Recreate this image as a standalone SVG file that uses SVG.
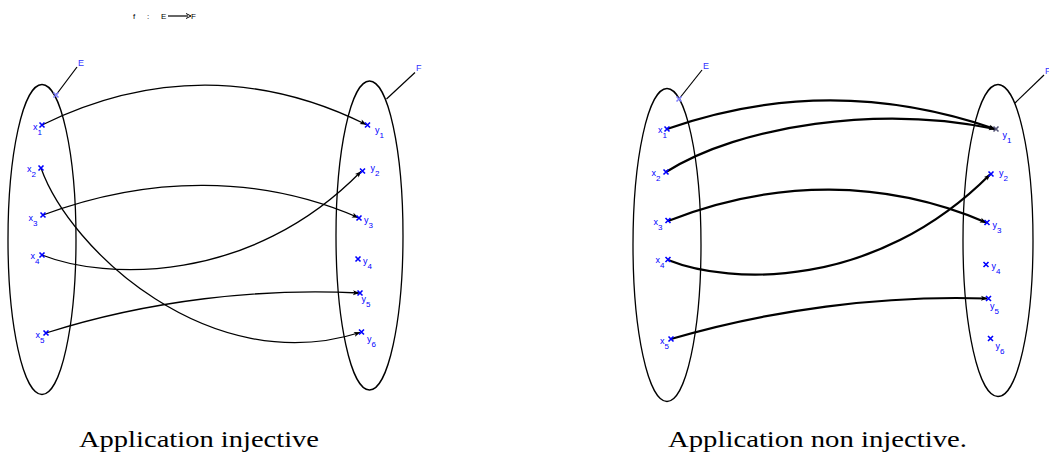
<svg xmlns="http://www.w3.org/2000/svg" xmlns:xlink="http://www.w3.org/1999/xlink" width="1049" height="461" viewBox="0 0 1049 461">
<style>
.set{fill:none;stroke:#000;stroke-width:1.3}
.lead{stroke:#000;stroke-width:1.2;fill:none}
.lbl{font-family:"Liberation Sans",Arial,sans-serif;font-size:9px;fill:#0000ff}
.sub{font-size:8px}
.setname{font-family:"Liberation Sans",Arial,sans-serif;font-size:9px;fill:#3333ff}
.pt{stroke:#0000ff;stroke-width:1.6;fill:none}
.pt2{stroke:#8080ff;stroke-width:1.6;fill:none}
.c1{fill:none;stroke:#000;stroke-width:1.3}
.c2{fill:none;stroke:#000;stroke-width:2.2}
.cap{font-family:"Liberation Serif","Times New Roman",serif;font-size:23px;fill:#000}
.top{font-family:"Liberation Sans",Arial,sans-serif;font-size:8px;fill:#000}
</style>
<defs>
<path id="cr" d="M-2.5,-2.5 L2.5,2.5 M-2.5,2.5 L2.5,-2.5"/>
<marker id="ah" markerUnits="userSpaceOnUse" markerWidth="8" markerHeight="6" refX="6" refY="3" orient="auto" overflow="visible">
<path d="M0,0.5 L6.5,3 L0,5.5 L1.5,3 z" fill="#000"/>
</marker>
</defs>
<rect width="1049" height="461" fill="#fff"/>

<g id="title">
<text class="top" x="133" y="19">f</text>
<text class="top" x="147" y="19">:</text>
<text class="top" x="161" y="19">E</text>
<line x1="168" y1="16" x2="188" y2="16" stroke="#000" stroke-width="1.2"/>
<path d="M186,13.5 L191,16 L186,18.5" fill="none" stroke="#000" stroke-width="1"/>
<text class="top" x="191" y="19">F</text>
</g>

<g id="setE1">
<ellipse class="set" cx="42" cy="239.5" rx="34" ry="155"/>
<line class="lead" x1="56" y1="95" x2="77" y2="67"/>
<use href="#cr" xlink:href="#cr" x="56" y="95" class="pt2"/>
<text class="setname" x="78" y="66">E</text>
</g>
<g id="setF1">
<ellipse class="set" cx="369.5" cy="235.5" rx="33.5" ry="154.5"/>
<line class="lead" x1="386.5" y1="99" x2="415" y2="72.5"/>
<text class="setname" x="416" y="71">F</text>
</g>

<g id="setE2">
<ellipse class="set" cx="667" cy="245" rx="34" ry="156.5"/>
<line class="lead" x1="679" y1="99" x2="702" y2="70"/>
<use href="#cr" xlink:href="#cr" x="679" y="99" class="pt2"/>
<text class="setname" x="703" y="69">E</text>
</g>
<g id="setF2">
<ellipse class="set" cx="998" cy="240.5" rx="35" ry="156"/>
<line class="lead" x1="1015" y1="103" x2="1044" y2="75"/>
<text class="setname" x="1045" y="74">F</text>
</g>

<g id="connectors">
<path class="c1" marker-end="url(#ah)" d="M42,125 C150,72 260,72 366,124.5"/>
<path class="c1" marker-end="url(#ah)" d="M41,168 C70,250 210,380 360,332.5"/>
<path class="c1" marker-end="url(#ah)" d="M43,215 C150,175 260,175 358,217.5"/>
<path class="c1" marker-end="url(#ah)" d="M42,255 C105,280 250,285 361,171.5"/>
<path class="c1" marker-end="url(#ah)" d="M46,333 C150,300 260,288 359,293"/>

<path class="c2" marker-end="url(#ah)" d="M667,129 C775,91 885,91 995,129"/>
<path class="c2" marker-end="url(#ah)" d="M666,172 C740,125 880,105 995,129"/>
<path class="c2" marker-end="url(#ah)" d="M668,221 C775,179 885,179 986,222.5"/>
<path class="c2" marker-end="url(#ah)" d="M668,260 C730,285 875,290 990,174.5"/>
<path class="c2" marker-end="url(#ah)" d="M671,339 C770,310 880,295 987,298.5"/>
</g>

<g id="x1a"><use href="#cr" xlink:href="#cr" x="42" y="125" class="pt"/><text class="lbl" x="33" y="130">x<tspan class="sub" dy="5">1</tspan></text></g>
<g id="x2a"><use href="#cr" xlink:href="#cr" x="41" y="168" class="pt"/><text class="lbl" x="27" y="172">x<tspan class="sub" dy="5">2</tspan></text></g>
<g id="x3a"><use href="#cr" xlink:href="#cr" x="43" y="215" class="pt"/><text class="lbl" x="28.5" y="221">x<tspan class="sub" dy="5">3</tspan></text></g>
<g id="x4a"><use href="#cr" xlink:href="#cr" x="42" y="255" class="pt"/><text class="lbl" x="30.5" y="259">x<tspan class="sub" dy="5">4</tspan></text></g>
<g id="x5a"><use href="#cr" xlink:href="#cr" x="46" y="333" class="pt"/><text class="lbl" x="35.5" y="338">x<tspan class="sub" dy="5">5</tspan></text></g>

<g id="y1a"><use href="#cr" xlink:href="#cr" x="367.5" y="125" class="pt"/><text class="lbl" x="375" y="133">y<tspan class="sub" dy="5">1</tspan></text></g>
<g id="y2a"><use href="#cr" xlink:href="#cr" x="362.5" y="171" class="pt"/><text class="lbl" x="370.5" y="171">y<tspan class="sub" dy="5">2</tspan></text></g>
<g id="y3a"><use href="#cr" xlink:href="#cr" x="359" y="218" class="pt"/><text class="lbl" x="364" y="222.5">y<tspan class="sub" dy="5">3</tspan></text></g>
<g id="y4a"><use href="#cr" xlink:href="#cr" x="358" y="259" class="pt"/><text class="lbl" x="363" y="264">y<tspan class="sub" dy="5">4</tspan></text></g>
<g id="y5a"><use href="#cr" xlink:href="#cr" x="360" y="293" class="pt"/><text class="lbl" x="361.5" y="302">y<tspan class="sub" dy="5">5</tspan></text></g>
<g id="y6a"><use href="#cr" xlink:href="#cr" x="361.5" y="332" class="pt"/><text class="lbl" x="367" y="342">y<tspan class="sub" dy="5">6</tspan></text></g>

<g id="x1b"><use href="#cr" xlink:href="#cr" x="667" y="129" class="pt"/><text class="lbl" x="658" y="133">x<tspan class="sub" dy="5">1</tspan></text></g>
<g id="x2b"><use href="#cr" xlink:href="#cr" x="666" y="172" class="pt"/><text class="lbl" x="651.5" y="175.5">x<tspan class="sub" dy="5">2</tspan></text></g>
<g id="x3b"><use href="#cr" xlink:href="#cr" x="668" y="220.5" class="pt"/><text class="lbl" x="653.5" y="225">x<tspan class="sub" dy="5">3</tspan></text></g>
<g id="x4b"><use href="#cr" xlink:href="#cr" x="668" y="259.5" class="pt"/><text class="lbl" x="655.5" y="262.5">x<tspan class="sub" dy="5">4</tspan></text></g>
<g id="x5b"><use href="#cr" xlink:href="#cr" x="671" y="339" class="pt"/><text class="lbl" x="660" y="344">x<tspan class="sub" dy="5">5</tspan></text></g>

<g id="y1b"><use href="#cr" xlink:href="#cr" x="996" y="129" class="pt" style="stroke:#555577"/><text class="lbl" x="1002.5" y="138">y<tspan class="sub" dy="5">1</tspan></text></g>
<g id="y2b"><use href="#cr" xlink:href="#cr" x="991" y="174" class="pt"/><text class="lbl" x="999" y="176">y<tspan class="sub" dy="5">2</tspan></text></g>
<g id="y3b"><use href="#cr" xlink:href="#cr" x="987" y="222.5" class="pt"/><text class="lbl" x="992.5" y="228">y<tspan class="sub" dy="5">3</tspan></text></g>
<g id="y4b"><use href="#cr" xlink:href="#cr" x="986" y="264.5" class="pt"/><text class="lbl" x="991.5" y="269">y<tspan class="sub" dy="5">4</tspan></text></g>
<g id="y5b"><use href="#cr" xlink:href="#cr" x="988.5" y="298.5" class="pt"/><text class="lbl" x="990" y="309">y<tspan class="sub" dy="5">5</tspan></text></g>
<g id="y6b"><use href="#cr" xlink:href="#cr" x="990.5" y="338.5" class="pt"/><text class="lbl" x="995.5" y="349">y<tspan class="sub" dy="5">6</tspan></text></g>

<g id="captions">
<text class="cap" x="79" y="447" textLength="240" lengthAdjust="spacingAndGlyphs">Application injective</text>
<text class="cap" x="668" y="447" textLength="299" lengthAdjust="spacingAndGlyphs">Application non injective.</text>
</g>
</svg>
